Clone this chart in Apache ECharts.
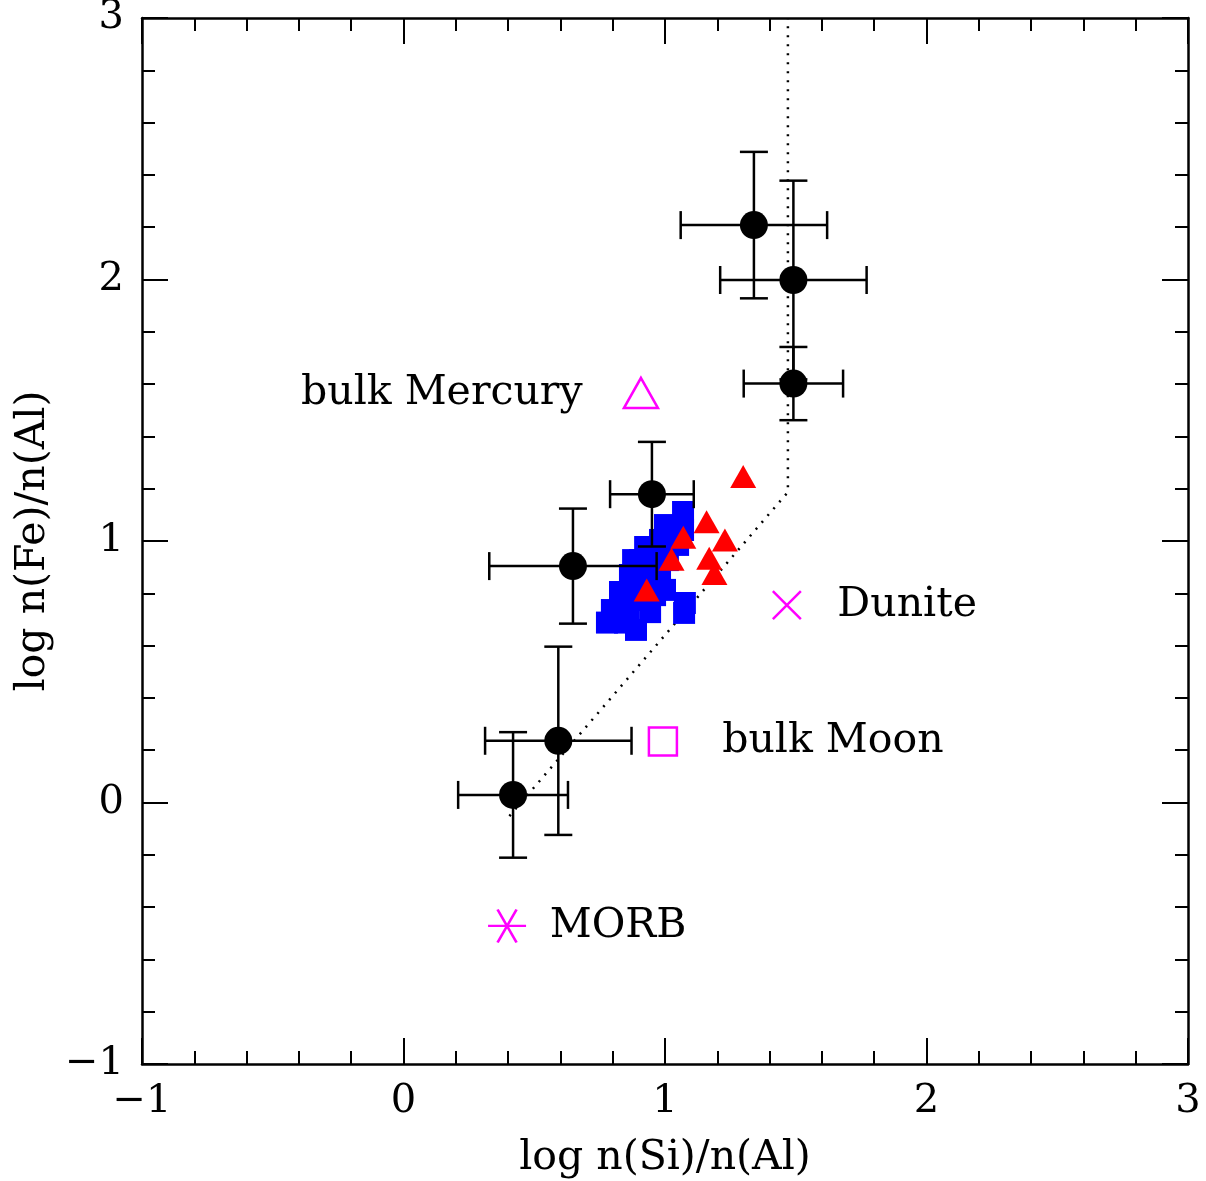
<!DOCTYPE html>
<html>
<head>
<meta charset="utf-8">
<script src="https://cdn.jsdelivr.net/npm/echarts@6/dist/echarts.min.js"></script>
<style>
html,body{margin:0;padding:0;background:#fff;}
#chart{width:1206px;height:1181px;}
</style>
</head>
<body>
<div id="chart"></div>
<script>
// Black points with symmetric error bars
const blackX    = [0.419, 0.592, 0.648, 0.950, 1.340, 1.491, 1.491];
const blackY    = [0.029, 0.236, 0.904, 1.179, 2.208, 1.998, 1.602];
const blackXErr = [0.21, 0.28, 0.32, 0.16, 0.28, 0.28, 0.19];
const blackYErr = [0.24, 0.36, 0.22, 0.20, 0.28, 0.38, 0.14];

// Blue squares
const blueX = [1.069, 1.069, 1.050, 1.000, 0.981, 1.011, 0.924, 0.878, 0.943, 0.866, 0.828,
               0.924, 0.981, 0.828, 0.904, 0.962, 0.778, 0.847, 0.889, 0.943, 1.076, 1.073,
               0.904, 0.962, 1.027, 0.859, 0.797, 1.000, 0.885];
const blueY = [1.111, 1.042, 0.985, 1.061, 1.004, 0.927, 0.977, 0.927, 0.908, 0.870, 0.805,
               0.832, 0.859, 0.763, 0.774, 0.793, 0.688, 0.688, 0.660, 0.728, 0.763, 0.725,
               0.927, 0.958, 1.042, 0.728, 0.736, 0.813, 0.820];

// Red triangles
const redX = [1.299, 1.159, 1.229, 1.169, 1.189, 1.070, 1.025, 0.930];
const redY = [1.247, 1.074, 1.004, 0.934, 0.876, 1.014, 0.930, 0.813];

// Dotted boundary line
const lineX = [0.405, 1.470, 1.470];
const lineY = [-0.052, 1.187, 3.0];

// Reference compositions (magenta)
const refNames = ['bulk Mercury', 'Dunite', 'bulk Moon', 'MORB'];
const refX = [0.908, 1.466, 0.992, 0.396];
const refY = [1.566, 0.755, 0.233, -0.472];

// Axis settings
const axisMin = -1, axisMax = 3, axisInterval = 1;
const xTitle = 'log n(Si)/n(Al)';
const yTitle = 'log n(Fe)/n(Al)';

const FONT = 'DejaVu Serif';
const MAG = '#ff00ff';

function zip(a, b) { return a.map((v, i) => [v, b[i]]); }

const chart = echarts.init(document.getElementById('chart'), null, {renderer: 'canvas'});

function mkAxis(pos, showLabel, name, nameRotate) {
  return {
    type: 'value', position: pos,
    min: axisMin, max: axisMax, interval: axisInterval,
    name: name || '', nameLocation: 'middle',
    nameGap: pos === 'bottom' ? 74 : 82,
    nameRotate: nameRotate,
    nameTextStyle: {fontFamily: FONT, fontSize: 41, color: '#000'},
    axisLine: {show: true, onZero: false, lineStyle: {color: '#000', width: 2.5}},
    axisTick: {show: true, inside: true, length: 26, lineStyle: {color: '#000', width: 2}},
    minorTick: {show: true, splitNumber: 5, length: 13, lineStyle: {color: '#000', width: 2}},
    axisLabel: {show: showLabel, fontFamily: FONT, fontSize: 40, color: '#000', margin: 18,
      formatter: v => String(v).replace('-', '\u2212')},
    splitLine: {show: false},
    minorSplitLine: {show: false}
  };
}

const markerLabel = (pos, dist) => ({
  show: true, position: pos, distance: dist,
  formatter: p => p.name,
  fontFamily: FONT, fontSize: 41, color: '#000'
});

const option = {
  backgroundColor: '#fff',
  animation: false,
  grid: {left: 142, top: 18, right: 18, bottom: 117, containLabel: false, outerBoundsMode: 'none'},
  xAxis: [mkAxis('bottom', true, xTitle), mkAxis('top', false)],
  yAxis: [mkAxis('left', true, yTitle, 90), mkAxis('right', false)],
  series: [
    {
      type: 'line', data: zip(lineX, lineY), symbol: 'none', z: 1,
      lineStyle: {color: '#000', width: 2.5, type: [2, 7]}
    },
    {
      type: 'scatter', data: zip(blueX, blueY), symbol: 'rect', symbolSize: 22, z: 2,
      itemStyle: {color: '#0000ff', opacity: 1}
    },
    {
      type: 'custom', z: 3,
      data: blackX.map((x, i) => [x, blackY[i], blackXErr[i], blackYErr[i]]),
      renderItem: function (params, api) {
        const x = api.value(0), y = api.value(1), ex = api.value(2), ey = api.value(3);
        const l = api.coord([x - ex, y]), r = api.coord([x + ex, y]);
        const t = api.coord([x, y + ey]), b = api.coord([x, y - ey]);
        const cap = 14;
        const st = {stroke: '#000', lineWidth: 2.5};
        const seg = (x1, y1, x2, y2) => ({type: 'line', shape: {x1, y1, x2, y2}, style: st});
        return {type: 'group', children: [
          seg(l[0], l[1], r[0], r[1]),
          seg(t[0], t[1], b[0], b[1]),
          seg(l[0], l[1] - cap, l[0], l[1] + cap),
          seg(r[0], r[1] - cap, r[0], r[1] + cap),
          seg(t[0] - cap, t[1], t[0] + cap, t[1]),
          seg(b[0] - cap, b[1], b[0] + cap, b[1])
        ]};
      }
    },
    {
      type: 'scatter', data: zip(blackX, blackY), symbol: 'circle', symbolSize: 28, z: 4,
      itemStyle: {color: '#000', opacity: 1}
    },
    {
      type: 'scatter', data: zip(redX, redY), symbol: 'triangle', symbolSize: [26, 23], z: 5,
      itemStyle: {color: '#ff0000', opacity: 1}
    },
    {
      type: 'scatter', z: 6,
      data: [{name: refNames[0], value: [refX[0], refY[0]]}],
      symbol: 'triangle', symbolSize: [34, 30],
      itemStyle: {color: 'rgba(0,0,0,0)', borderColor: MAG, borderWidth: 2.5, opacity: 1},
      label: markerLabel('left', 40)
    },
    {
      type: 'scatter', z: 6,
      data: [{name: refNames[1], value: [refX[1], refY[1]]}],
      symbol: 'path://M0,0L10,10M0,10L10,0', symbolSize: 28,
      itemStyle: {color: 'none', borderColor: MAG, borderWidth: 2.5, opacity: 1},
      label: markerLabel('right', 34)
    },
    {
      type: 'scatter', z: 6,
      data: [{name: refNames[2], value: [refX[2], refY[2]]}],
      symbol: 'rect', symbolSize: 28,
      itemStyle: {color: 'rgba(0,0,0,0)', borderColor: MAG, borderWidth: 2.5, opacity: 1},
      label: markerLabel('right', 44)
    },
    {
      type: 'scatter', z: 6,
      data: [{name: refNames[3], value: [refX[3], refY[3]]}],
      symbol: 'path://M-10,0L10,0M-5,-8.66L5,8.66M-5,8.66L5,-8.66', symbolSize: [38, 33],
      itemStyle: {color: 'none', borderColor: MAG, borderWidth: 2.5, opacity: 1},
      label: markerLabel('right', 21)
    }
  ]
};

chart.setOption(option);
</script>
</body>
</html>
